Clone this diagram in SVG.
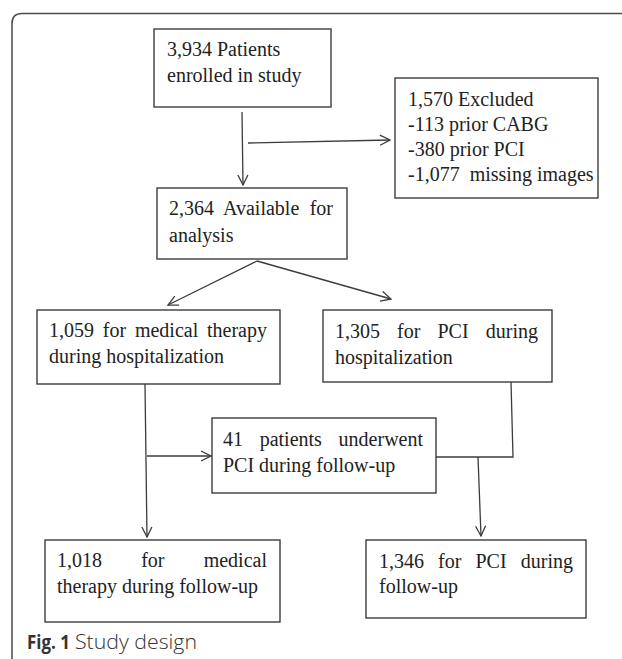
<svg xmlns="http://www.w3.org/2000/svg" width="622" height="659" viewBox="0 0 622 659">
<style>
.box{fill:#fff;stroke:#3c3c3c;stroke-width:1.4}
.t{font-family:"Liberation Serif","Times New Roman",serif;font-size:20px;fill:#222}
.c{fill:none;stroke:#3c3c3c;stroke-width:1.3}
.frame{fill:none;stroke:#4a4a4a;stroke-width:1.5}
.cap{font-family:"Open Sans","Noto Sans",sans-serif;fill:#333}
</style>
<defs>
<marker id="ah" viewBox="0 0 12 12" refX="11" refY="6" markerWidth="12" markerHeight="12" markerUnits="userSpaceOnUse" orient="auto">
<path d="M1,1 L11,6 L1,11" fill="none" stroke="#3c3c3c" stroke-width="1.3"/>
</marker>
</defs>
<rect width="622" height="659" fill="#fff"/>
<path class="frame" d="M622,13.5 L22,13.5 Q12,13.5 12,23.5 L12,659"/>

<g id="connectors">
<line class="c" x1="242" y1="112" x2="243" y2="185" marker-end="url(#ah)"/>
<line class="c" x1="248" y1="143" x2="390" y2="140" marker-end="url(#ah)"/>
<line class="c" x1="257" y1="261" x2="168" y2="305" marker-end="url(#ah)"/>
<line class="c" x1="257" y1="261" x2="391" y2="299" marker-end="url(#ah)"/>
<line class="c" x1="145" y1="384" x2="147" y2="537" marker-end="url(#ah)"/>
<line class="c" x1="147" y1="456" x2="211" y2="456" marker-end="url(#ah)"/>
<polyline class="c" points="511,382 513,457 436,457"/>
<line class="c" x1="478" y1="457" x2="481" y2="536" marker-end="url(#ah)"/>
</g>

<g id="n-enrolled">
<rect class="box" x="154" y="29" width="177" height="78"/>
<text class="t" x="167" y="56">3,934 Patients</text>
<text class="t" x="167" y="82">enrolled in study</text>
</g>

<g id="n-excluded">
<rect class="box" x="395" y="78" width="203" height="120"/>
<text class="t" x="408" y="106">1,570 Excluded</text>
<text class="t" x="408" y="131">-113 prior CABG</text>
<text class="t" x="408" y="156">-380 prior PCI</text>
<text class="t" x="408" y="181" xml:space="preserve">-1,077  missing images</text>
</g>

<g id="n-available">
<rect class="box" x="157" y="188" width="190" height="71"/>
<text class="t" y="215"><tspan x="169">2,364</tspan><tspan x="223">Available</tspan><tspan x="309.7">for</tspan></text>
<text class="t" x="169" y="242">analysis</text>
</g>

<g id="n-medical-hosp">
<rect class="box" x="37" y="310" width="243" height="74"/>
<text class="t" y="337"><tspan x="49">1,059</tspan><tspan x="102.8">for</tspan><tspan x="134.9">medical</tspan><tspan x="207">therapy</tspan></text>
<text class="t" x="49" y="363">during hospitalization</text>
</g>

<g id="n-pci-hosp">
<rect class="box" x="323" y="310" width="229" height="72"/>
<text class="t" y="338"><tspan x="335">1,305</tspan><tspan x="397.1">for</tspan><tspan x="437.5">PCI</tspan><tspan x="485.8">during</tspan></text>
<text class="t" x="335" y="364">hospitalization</text>
</g>

<g id="n-41">
<rect class="box" x="212" y="418" width="224" height="75"/>
<text class="t" y="446"><tspan x="223">41</tspan><tspan x="259.7">patients</tspan><tspan x="338.6">underwent</tspan></text>
<text class="t" x="223" y="472">PCI during follow-up</text>
</g>

<g id="n-medical-fu">
<rect class="box" x="45" y="540" width="235" height="82"/>
<text class="t" y="567"><tspan x="57">1,018</tspan><tspan x="141.2">for</tspan><tspan x="203.7">medical</tspan></text>
<text class="t" x="57" y="593">therapy during follow-up</text>
</g>

<g id="n-pci-fu">
<rect class="box" x="366" y="540" width="220" height="78"/>
<text class="t" y="568"><tspan x="379">1,346</tspan><tspan x="438.1">for</tspan><tspan x="475.5">PCI</tspan><tspan x="520.8">during</tspan></text>
<text class="t" x="379" y="593">follow-up</text>
</g>

<g id="caption">
<text class="cap" x="27" y="649" font-size="19" font-weight="bold" textLength="43" lengthAdjust="spacingAndGlyphs">Fig. 1</text>
<text class="cap" x="75" y="649" font-size="20" font-weight="300" textLength="122" lengthAdjust="spacingAndGlyphs">Study design</text>
</g>
</svg>
